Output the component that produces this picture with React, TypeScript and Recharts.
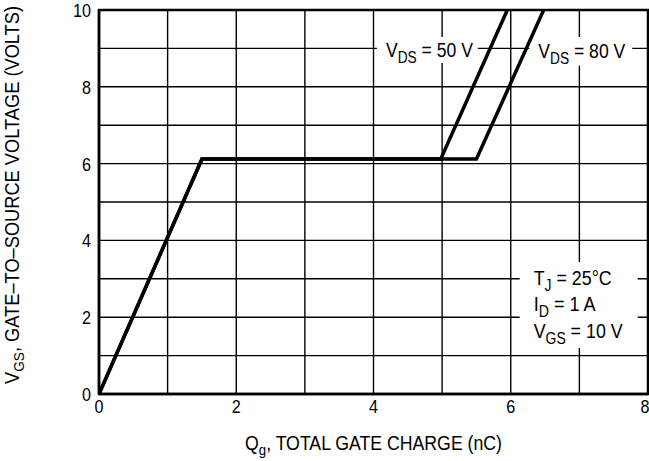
import React from "react";
import {
  LineChart,
  Line,
  XAxis,
  YAxis,
  CartesianGrid,
  ReferenceArea,
} from "recharts";

// Gate charge curves
const xTicks = [0, 2, 4, 6, 8];
const yTicks = [0, 2, 4, 6, 8, 10];
const xGrid = [0, 1, 2, 3, 4, 5, 6, 7, 8];
const yGrid = [0, 1, 2, 3, 4, 5, 6, 7, 8, 9, 10];

const vds50 = [
  { q: 0, v: 0 },
  { q: 1.5, v: 6.12 },
  { q: 4.98, v: 6.12 },
  { q: 5.95, v: 10 },
];
const vds80 = [
  { q: 0, v: 0 },
  { q: 1.5, v: 6.12 },
  { q: 5.5, v: 6.12 },
  { q: 6.48, v: 10 },
];

// no narrow font installed, so squeeze a regular sans with textLength
const FONT = "'Liberation Sans', Arial, sans-serif";

function Sub({ main, sub, rest, x, y, size, len }: any) {
  return (
    <text x={x} y={y} fontFamily={FONT} fontSize={size} fill="#000" textLength={len} lengthAdjust="spacingAndGlyphs">
      <tspan>{main}</tspan>
      <tspan dy={size * 0.28} fontSize={size * 0.78}>{sub}</tspan>
      <tspan dy={-size * 0.28}>{rest}</tspan>
    </text>
  );
}

const NarrowTick = ({ x, y, payload, anchor, dy }: any) => {
  const s = String(payload.value);
  return (
    <text
      x={x}
      y={y}
      dy={dy}
      textAnchor={anchor}
      fontFamily={FONT}
      fontSize={19}
      fill="#000"
      textLength={s.length * 9}
      lengthAdjust="spacingAndGlyphs"
    >
      {s}
    </text>
  );
};

const vdsLabel = (value: string) => (props: any) => {
  const vb = props.viewBox;
  return (
    <Sub main="V" sub="DS" rest={` = ${value} V`} x={vb.x + 9} y={vb.y + vb.height / 2 + 7} size={20} len={87} />
  );
};

const condLabel = (props: any) => {
  const vb = props.viewBox;
  const x = vb.x + 14;
  return (
    <g>
      <Sub main="T" sub="J" rest=" = 25°C" x={x} y={vb.y + 23} size={20} len={78} />
      <Sub main="I" sub="D" rest=" = 1 A" x={x} y={vb.y + 49} size={20} len={62} />
      <Sub main="V" sub="GS" rest=" = 10 V" x={x} y={vb.y + 76} size={20} len={89} />
    </g>
  );
};

const xTitle = (props: any) => {
  const vb = props.viewBox;
  return (
    <text
      x={vb.x + vb.width / 2}
      y={vb.y + 56}
      textAnchor="middle"
      fontFamily={FONT}
      fontSize={20}
      fill="#000"
      textLength={257}
      lengthAdjust="spacingAndGlyphs"
    >
      <tspan>Q</tspan>
      <tspan dy={5} fontSize={15}>g</tspan>
      <tspan dy={-5}>, TOTAL GATE CHARGE (nC)</tspan>
    </text>
  );
};

const yTitle = (props: any) => {
  const vb = props.viewBox;
  const cx = vb.x + 19;
  const cy = vb.y + vb.height / 2 - 7;
  return (
    <text
      x={cx}
      y={cy}
      transform={`rotate(-90, ${cx}, ${cy})`}
      textAnchor="middle"
      fontFamily={FONT}
      fontSize={20}
      fill="#000"
      textLength={378}
      lengthAdjust="spacingAndGlyphs"
    >
      <tspan>V</tspan>
      <tspan dy={5} fontSize={15}>GS</tspan>
      <tspan dy={-5}>, GATE–TO–SOURCE VOLTAGE (VOLTS)</tspan>
    </text>
  );
};

export default function App() {
  return (
    <div style={{ position: "absolute", left: 0, top: 0, background: "#fff" }}>
      <LineChart width={649} height={461} margin={{ top: 10, right: 1, left: 0, bottom: 0 }}>
        <CartesianGrid
          stroke="#000"
          strokeWidth={1.4}
          horizontalValues={yGrid}
          verticalValues={xGrid}
        />
        <XAxis
          type="number"
          dataKey="q"
          domain={[0, 8]}
          ticks={xTicks}
          allowDataOverflow
          height={67}
          axisLine={{ stroke: "#000", strokeWidth: 2.5 }}
          tickLine={false}
          tickSize={0}
          tickMargin={5}
          tick={<NarrowTick anchor="middle" dy={14} />}
          label={xTitle}
        />
        <YAxis
          type="number"
          domain={[0, 10]}
          ticks={yTicks}
          allowDataOverflow
          width={99}
          axisLine={{ stroke: "#000", strokeWidth: 2.5 }}
          tickLine={false}
          tickSize={0}
          tickMargin={8}
          tick={<NarrowTick anchor="end" dy={7} />}
          label={yTitle}
        />
        <ReferenceArea x1={4.05} x2={5.52} y1={8.62} y2={9.3} fill="#fff" fillOpacity={1} stroke="none" label={vdsLabel("50")} />
        <ReferenceArea x1={6.27} x2={7.77} y1={8.55} y2={9.3} fill="#fff" fillOpacity={1} stroke="none" label={vdsLabel("80")} />
        <ReferenceArea x1={6.13} x2={7.85} y1={1.2} y2={3.44} fill="#fff" fillOpacity={1} stroke="none" label={condLabel} />
        <ReferenceArea x1={0} x2={8} y1={0} y2={10} fill="none" stroke="#000" strokeWidth={2.5} />
        <Line data={vds50} dataKey="v" stroke="#000" strokeWidth={3.5} dot={false} isAnimationActive={false} strokeLinejoin="miter" />
        <Line data={vds80} dataKey="v" stroke="#000" strokeWidth={3.5} dot={false} isAnimationActive={false} strokeLinejoin="miter" />
      </LineChart>
    </div>
  );
}
